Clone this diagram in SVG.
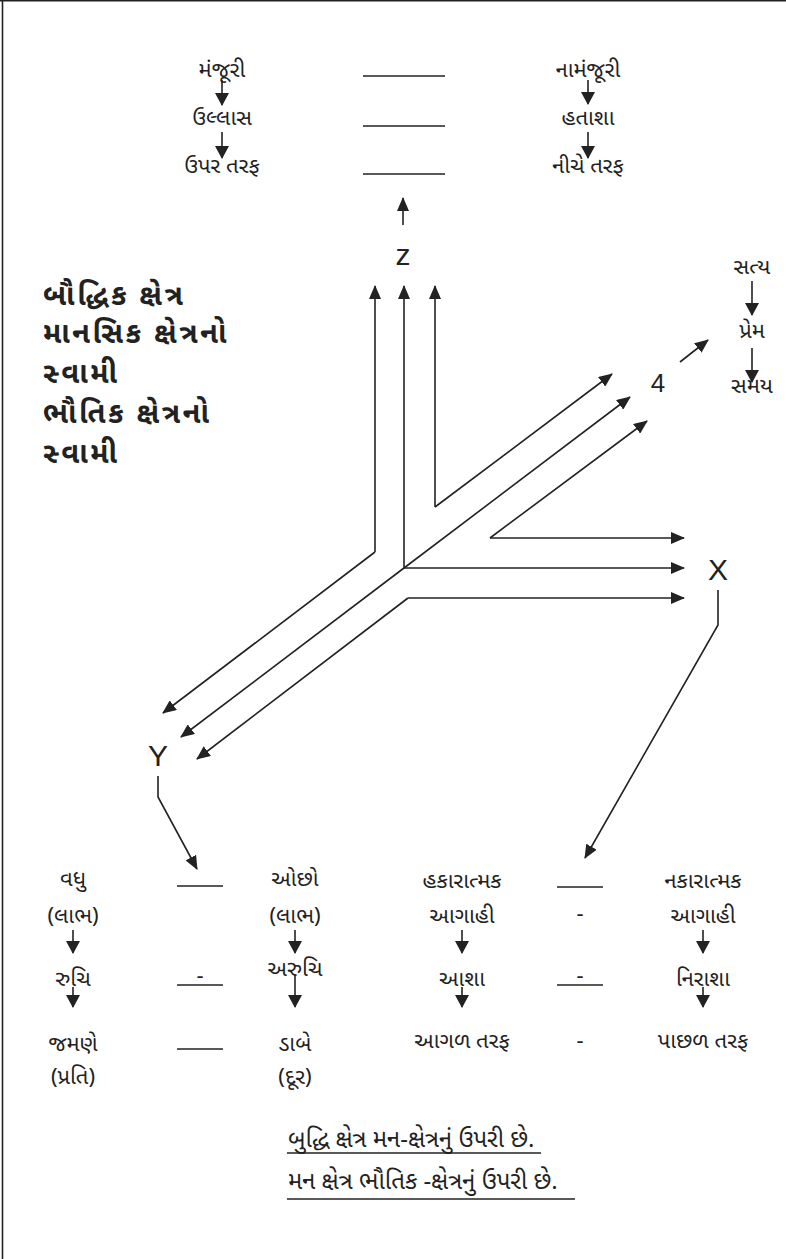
<svg xmlns="http://www.w3.org/2000/svg" width="786" height="1259" viewBox="0 0 786 1259">
<style>
.g{font-family:"Noto Sans Gujarati","Noto Sans","DejaVu Sans",sans-serif;font-size:22px;fill:#222;text-anchor:middle}
.f{font-family:"Noto Sans Gujarati","Noto Sans","DejaVu Sans",sans-serif;font-size:24px;fill:#222}
.b{font-family:"Noto Sans Gujarati","Noto Sans","DejaVu Sans",sans-serif;font-size:29px;font-weight:bold;fill:#222;letter-spacing:2.6px}
.l{font-family:"Liberation Sans",Arial,sans-serif;font-size:30px;fill:#222;text-anchor:middle}
.ln{stroke:#222;stroke-width:1.6;fill:none}
.ar{stroke:#222;stroke-width:1.6;fill:none;marker-end:url(#ah)}
.sa{stroke:#222;stroke-width:1.6;fill:none;marker-end:url(#sh)}
</style>
<defs>
<marker id="ah" viewBox="0 0 14 12" refX="13" refY="6" markerWidth="14" markerHeight="12" orient="auto" markerUnits="userSpaceOnUse"><path d="M0,0 L14,6 L0,12 z" fill="#222"/></marker>
<marker id="sh" viewBox="0 0 13 14" refX="12" refY="7" markerWidth="13" markerHeight="14" orient="auto" markerUnits="userSpaceOnUse"><path d="M0,0 L13,7 L0,14 z" fill="#222"/></marker>
</defs>
<rect width="786" height="1259" fill="#fff"/>
<g id="border" class="ln"><line x1="0" y1="0.8" x2="786" y2="0.8"/><line x1="2.5" y1="0" x2="2.5" y2="1259"/></g>

<g id="top-left">
<text class="g" x="222" y="77">મંજૂરી</text>
<text class="g" x="222" y="125">ઉલ્લાસ</text>
<text class="g" x="222" y="173">ઉપર તરફ</text>
</g>
<g id="top-right">
<text class="g" x="588" y="77">નામંજૂરી</text>
<text class="g" x="588" y="125">હતાશા</text>
<text class="g" x="588" y="173">નીચે તરફ</text>
</g>
<g id="top-dashes" class="ln">
<line x1="363" y1="76" x2="445" y2="76"/>
<line x1="363" y1="126" x2="445" y2="126"/>
<line x1="363" y1="174" x2="445" y2="174"/>
</g>

<g id="left-title">
<text class="b" x="43" y="305">બૌદ્ધિક ક્ષેત્ર</text>
<text class="b" x="43" y="343">માનસિક ક્ષેત્રનો</text>
<text class="b" x="43" y="383">સ્વામી</text>
<text class="b" x="43" y="423">ભૌતિક ક્ષેત્રનો</text>
<text class="b" x="43" y="463">સ્વામી</text>
</g>

<g id="z-node"><text class="l" x="403" y="265">z</text></g>
<g id="x-node"><text class="l" x="718" y="580">X</text></g>
<g id="y-node"><text class="l" x="158" y="766">Y</text></g>
<g id="four-node"><text class="l" x="658" y="392" style="font-size:26px">4</text></g>

<g id="satya">
<text class="g" x="752" y="274">સત્ય</text>
<text class="g" x="752" y="338">પ્રેમ</text>
<text class="g" x="752" y="393">સમય</text>
</g>

<g id="table-col1">
<text class="g" x="73" y="886">વધુ</text>
<text class="g" x="73" y="923">(લાભ)</text>
<text class="g" x="73" y="986">રુચિ</text>
<text class="g" x="73" y="1051">જમણે</text>
<text class="g" x="73" y="1084">(પ્રતિ)</text>
</g>
<g id="table-col2">
<text class="g" x="295" y="886">ઓછો</text>
<text class="g" x="295" y="923">(લાભ)</text>
<text class="g" x="295" y="976">અરુચિ</text>
<text class="g" x="295" y="1051">ડાબે</text>
<text class="g" x="295" y="1084">(દૂર)</text>
</g>
<g id="table-col3">
<text class="g" x="462" y="888">હકારાત્મક</text>
<text class="g" x="462" y="923">આગાહી</text>
<text class="g" x="462" y="986">આશા</text>
<text class="g" x="462" y="1048">આગળ તરફ</text>
</g>
<g id="table-col4">
<text class="g" x="703" y="888">નકારાત્મક</text>
<text class="g" x="703" y="923">આગાહી</text>
<text class="g" x="703" y="986">નિરાશા</text>
<text class="g" x="703" y="1048">પાછળ તરફ</text>
</g>
<g id="table-sep1">
<line class="ln" x1="177" y1="886" x2="223" y2="886"/>
<text class="g" x="200" y="983">-</text>
<line class="ln" x1="177" y1="985" x2="223" y2="985"/>
<line class="ln" x1="177" y1="1049" x2="223" y2="1049"/>
</g>
<g id="table-sep2">
<line class="ln" x1="557" y1="887" x2="603" y2="887"/>
<text class="g" x="580" y="921">-</text>
<text class="g" x="580" y="983">-</text>
<line class="ln" x1="557" y1="985" x2="603" y2="985"/>
<text class="g" x="580" y="1048">-</text>
</g>

<g id="footer">
<text class="f" x="288" y="1147">બુદ્ધિ ક્ષેત્ર મન-ક્ષેત્રનું ઉપરી છે.</text>
<line class="ln" x1="287" y1="1153" x2="541" y2="1153"/>
<text class="f" x="288" y="1189">મન ક્ષેત્ર ભૌતિક -ક્ષેત્રનું ઉપરી છે.</text>
<line class="ln" x1="287" y1="1199" x2="575" y2="1199"/>
</g>

<g id="connectors">
<path class="sa" d="M222,80 V105"/>
<path class="sa" d="M222,132 V158"/>
<path class="sa" d="M588,80 V104"/>
<path class="sa" d="M588,132 V158"/>
<path class="ar" d="M403,225 V198"/>
<path class="ar" d="M375,552 V286"/>
<path class="ar" d="M404,568 V286"/>
<path class="ar" d="M435,507 V286"/>
<path class="ar" d="M435,507 L612,374"/>
<path class="ar" d="M404,568 L630,397"/>
<path class="ar" d="M490,538 L647,421"/>
<path class="ar" d="M490,538 H684"/>
<path class="ar" d="M404,568 H684"/>
<path class="ar" d="M408,598 H684"/>
<path class="ar" d="M375,552 L163,713"/>
<path class="ar" d="M404,568 L181,737"/>
<path class="ar" d="M408,598 L197,759"/>
<path class="ar" d="M680,362 L708,340"/>
<path class="sa" d="M752,281 V315"/>
<path class="sa" d="M752,348 V382"/>
<path class="ar" d="M158,776 V797 L197,869"/>
<path class="ar" d="M718,590 V625 L585,858"/>
<path class="sa" d="M73,930 V953"/>
<path class="sa" d="M73,987 V1007"/>
<path class="sa" d="M295,930 V953"/>
<path class="sa" d="M295,975 V1007"/>
<path class="sa" d="M462,930 V953"/>
<path class="sa" d="M462,987 V1007"/>
<path class="sa" d="M703,930 V953"/>
<path class="sa" d="M703,987 V1007"/>
</g>
</svg>
